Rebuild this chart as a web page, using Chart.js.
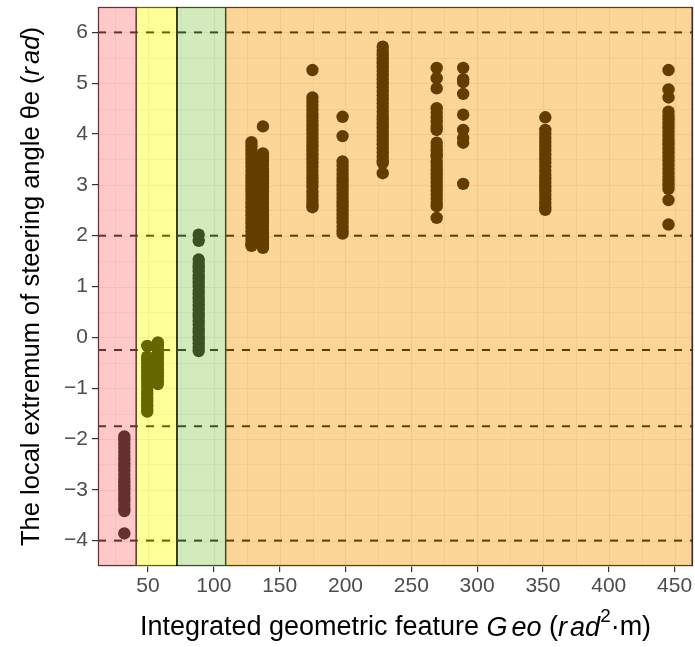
<!DOCTYPE html>
<html>
<head>
<meta charset="utf-8">
<script src="https://cdn.jsdelivr.net/npm/chart.js@4"></script>
<style>
  html, body { margin: 0; padding: 0; background: #fff; }
  #wrap { width: 695px; height: 647px; }
</style>
</head>
<body>
<div id="wrap"><canvas id="geoChart" width="695" height="647"></canvas></div>
<script>
// x position of each column of observations
const colX = [32, 49.4, 57.5, 88.5, 128.6, 137.3, 174.9, 197.8, 228.3, 269.3, 289.4, 351.8, 445.4];

// local extremum values per column
const y32 = [-1.95, -2.02, -2.1, -2.18, -2.25, -2.33, -2.4, -2.48, -2.55, -2.62, -2.7, -2.78, -2.85,
  -2.93, -3.0, -3.08, -3.15, -3.22, -3.3, -3.38, -3.42, -3.86];
const y49 = [-0.17, -0.38, -0.45, -0.52, -0.6, -0.67, -0.75, -0.82, -0.9, -0.97, -1.05, -1.12,
  -1.2, -1.27, -1.35, -1.42, -1.46];
const y58 = [-0.1, -0.17, -0.25, -0.33, -0.4, -0.48, -0.55, -0.63, -0.7, -0.78, -0.85, -0.92];
const y88 = [2.02, 1.9, 1.53, 1.45, 1.38, 1.3, 1.22, 1.15, 1.07, 1.0, 0.92, 0.85, 0.77, 0.7, 0.62,
  0.55, 0.47, 0.4, 0.32, 0.25, 0.17, 0.1, 0.02, -0.05, -0.12, -0.2, -0.27];
const y129 = [3.84, 3.76, 3.68, 3.6, 3.52, 3.44, 3.36, 3.28, 3.2, 3.12, 3.04, 2.96, 2.88, 2.8, 2.72,
  2.64, 2.56, 2.48, 2.4, 2.32, 2.24, 2.16, 2.08, 2.0, 1.92, 1.84, 1.8];
const y137 = [4.15, 3.62, 3.55, 3.47, 3.4, 3.32, 3.25, 3.17, 3.1, 3.02, 2.95, 2.87, 2.8, 2.72, 2.65,
  2.57, 2.5, 2.42, 2.35, 2.27, 2.2, 2.12, 2.05, 1.97, 1.9, 1.82, 1.76];
const y175 = [5.26, 4.72, 4.64, 4.56, 4.48, 4.4, 4.32, 4.24, 4.16, 4.08, 4.0, 3.92, 3.84, 3.76, 3.68,
  3.6, 3.52, 3.44, 3.36, 3.28, 3.2, 3.12, 3.05, 2.97, 2.86, 2.78, 2.7, 2.62, 2.56];
const y198 = [4.34, 3.96, 3.46, 3.38, 3.3, 3.22, 3.14, 3.06, 2.98, 2.9, 2.82, 2.74, 2.66, 2.58, 2.5,
  2.42, 2.34, 2.26, 2.18, 2.1, 2.04];
const y228 = [5.72, 5.64, 5.56, 5.48, 5.4, 5.32, 5.24, 5.16, 5.08, 5.0, 4.92, 4.84, 4.76, 4.68, 4.6,
  4.52, 4.44, 4.36, 4.28, 4.2, 4.12, 4.04, 3.96, 3.88, 3.8, 3.72, 3.64, 3.56, 3.48, 3.43, 3.23];
const y269 = [5.3, 5.1, 4.9, 4.51, 4.42, 4.33, 4.24, 4.15, 4.08, 3.83, 3.75, 3.67, 3.59, 3.55, 3.45,
  3.37, 3.29, 3.21, 3.13, 3.05, 2.97, 2.89, 2.81, 2.73, 2.65, 2.58, 2.35];
const y289 = [5.3, 5.08, 5.02, 4.79, 4.38, 4.08, 3.92, 3.83, 3.02];
const y352 = [4.33, 4.08, 4.0, 3.92, 3.84, 3.76, 3.68, 3.6, 3.52, 3.44, 3.36, 3.28, 3.2, 3.12, 3.04,
  2.96, 2.88, 2.8, 2.72, 2.64, 2.56, 2.51];
const y445 = [5.26, 4.88, 4.72, 4.44, 4.36, 4.28, 4.2, 4.12, 4.04, 3.96, 3.88, 3.8, 3.72, 3.64, 3.56,
  3.48, 3.4, 3.32, 3.24, 3.16, 3.08, 3.0, 2.92, 2.7, 2.22];
const colY = [y32, y49, y58, y88, y129, y137, y175, y198, y228, y269, y289, y352, y445];

// shaded Geo bands
const bandFrom = [12, 41, 72, 109];
const bandTo = [41, 72, 109, 464];
const bandColor = ['rgba(255,120,120,0.4)', 'rgba(255,255,0,0.4)', 'rgba(145,202,87,0.4)', 'rgba(247,150,0,0.4)'];

// dashed reference levels
const hLevels = [6, 2, -0.25, -1.75, -4];

const xTicks = [50, 100, 150, 200, 250, 300, 350, 400, 450];
const yTicks = [-4, -3, -2, -1, 0, 1, 2, 3, 4, 5, 6];

const FONT = '"Liberation Sans", Arial, sans-serif';

const datasets = colX.map((x, i) => ({
  data: colY[i].map(v => ({ x: x, y: v })),
  backgroundColor: '#000',
  borderWidth: 0,
  pointRadius: 6.2,
  pointHoverRadius: 6.2
}));

function drawRich(ctx, parts, size, cx, cy) {
  const fontOf = p => (p.italic ? 'italic ' : '') + (p.sup ? size * 0.7 : size) + 'px ' + FONT;
  let total = 0;
  parts.forEach(p => { ctx.font = fontOf(p); total += ctx.measureText(p.t).width + (p.gap || 0); });
  let x = cx - total / 2;
  ctx.textBaseline = 'middle';
  ctx.textAlign = 'left';
  parts.forEach(p => {
    ctx.font = fontOf(p);
    ctx.fillText(p.t, x, p.sup ? cy - size * 0.42 : cy);
    x += ctx.measureText(p.t).width + (p.gap || 0);
  });
}

const bandsPlugin = {
  id: 'bands',
  beforeDatasetsDraw(chart) {
    const { ctx, chartArea: a, scales: { x, y } } = chart;
    ctx.save();
    // grid, ggplot style
    ctx.strokeStyle = '#ebebeb';
    for (let v = 25; v < 464; v += 25) {
      const px = Math.round(x.getPixelForValue(v)) + 0.5;
      ctx.lineWidth = v % 50 === 0 ? 1.2 : 0.7;
      ctx.beginPath(); ctx.moveTo(px, a.top); ctx.lineTo(px, a.bottom); ctx.stroke();
    }
    for (let v = -4.5; v <= 6.5; v += 0.5) {
      const py = Math.round(y.getPixelForValue(v)) + 0.5;
      ctx.lineWidth = Number.isInteger(v) ? 1.2 : 0.7;
      ctx.beginPath(); ctx.moveTo(a.left, py); ctx.lineTo(a.right, py); ctx.stroke();
    }
    // dashed levels
    ctx.strokeStyle = '#000';
    ctx.lineWidth = 2;
    ctx.setLineDash([8, 8]);
    hLevels.forEach(v => {
      const py = y.getPixelForValue(v);
      ctx.beginPath(); ctx.moveTo(a.left, py); ctx.lineTo(a.right, py); ctx.stroke();
    });
    ctx.setLineDash([]);
    ctx.restore();
  },
  afterDatasetsDraw(chart) {
    const { ctx, chartArea: a, scales: { x, y } } = chart;
    ctx.save();
    // outline gets tinted by the bands
    ctx.strokeStyle = '#000';
    ctx.lineWidth = 1.2;
    ctx.strokeRect(a.left + 0.5, a.top + 0.5, a.right - a.left - 1, a.bottom - a.top - 1);
    bandFrom.forEach((from, i) => {
      const x0 = x.getPixelForValue(from);
      const x1 = x.getPixelForValue(bandTo[i]);
      ctx.fillStyle = bandColor[i];
      ctx.fillRect(x0, a.top, x1 - x0, a.bottom - a.top);
    });
    // band edges
    const edge = (v, c, w) => {
      const px = x.getPixelForValue(v);
      ctx.strokeStyle = c; ctx.lineWidth = w;
      ctx.beginPath(); ctx.moveTo(px, a.top); ctx.lineTo(px, a.bottom); ctx.stroke();
    };
    edge(41, '#66302f', 1.5);
    edge(72, '#000', 1.5);
    edge(109, '#3a5123', 1.5);
    ctx.strokeStyle = '#333';
    ctx.lineWidth = 1.5;
    ctx.beginPath(); ctx.moveTo(a.right - 0.75, a.top); ctx.lineTo(a.right - 0.75, a.bottom); ctx.stroke();
    ctx.restore();
  },
  afterDraw(chart) {
    const { ctx, chartArea: a } = chart;
    ctx.save();
    ctx.fillStyle = '#000';
    drawRich(ctx, [
      { t: 'Integrated geometric feature ' },
      { t: 'G', italic: true, gap: 4 },
      { t: 'eo', italic: true },
      { t: ' (' },
      { t: 'r', italic: true, gap: 3 },
      { t: 'ad', italic: true },
      { t: '2', sup: true },
      { t: '\u00b7m)' }
    ], 27, (a.left + a.right) / 2, 628);
    ctx.translate(32, (a.top + a.bottom) / 2);
    ctx.rotate(-Math.PI / 2);
    drawRich(ctx, [
      { t: 'The local extremum of steering angle \u03b8e (' },
      { t: 'r', italic: true, gap: 3 },
      { t: 'ad', italic: true },
      { t: ')' }
    ], 25.5, 0, 0);
    ctx.restore();
  }
};

const dropPad = s => { s.paddingTop = 0; s.paddingBottom = 0; s.paddingLeft = 0; s.paddingRight = 0; };

new Chart(document.getElementById('geoChart'), {
  type: 'scatter',
  data: { datasets: datasets },
  plugins: [bandsPlugin],
  options: {
    responsive: false,
    animation: false,
    layout: { autoPadding: false, padding: { top: 7, right: 2, left: 0, bottom: 0 } },
    plugins: { legend: { display: false }, tooltip: { enabled: false } },
    scales: {
      x: {
        type: 'linear',
        min: 12,
        max: 464,
        afterBuildTicks: s => { s.ticks = xTicks.map(v => ({ value: v })); },
        afterFit: s => { s.height = 81; dropPad(s); },
        grid: { drawOnChartArea: false, tickLength: 6, tickColor: '#333', lineWidth: 1.2 },
        border: { display: false },
        ticks: { color: '#4d4d4d', padding: 2, maxRotation: 0, font: { family: FONT, size: 21 } }
      },
      y: {
        type: 'linear',
        min: -4.5,
        max: 6.5,
        afterBuildTicks: s => { s.ticks = yTicks.map(v => ({ value: v })); },
        afterFit: s => { s.width = 98; dropPad(s); },
        grid: { drawOnChartArea: false, tickLength: 6, tickColor: '#333', lineWidth: 1.2 },
        border: { display: false },
        ticks: {
          color: '#4d4d4d', padding: 4, font: { family: FONT, size: 21 },
          callback: v => (v < 0 ? '\u2212' + Math.abs(v) : String(v))
        }
      }
    }
  }
});
</script>
</body>
</html>
